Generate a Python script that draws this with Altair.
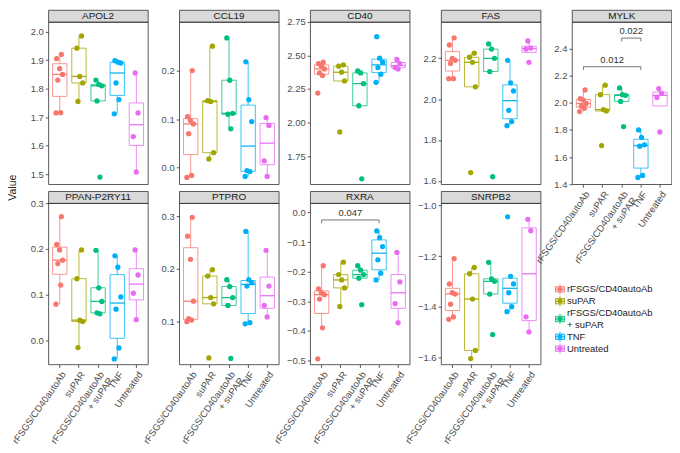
import altair as alt
import pandas as pd

FONT = "Liberation Sans"

# ---------------- data ----------------
GROUPS = ["rFSGS/CD40autoAb", "suPAR", "rFSGS/CD40autoAb + suPAR", "TNF", "Untreated"]
COLORS = ["#F8766D", "#A3A500", "#00BF7D", "#00B0F6", "#E76BF3"]
LEGEND_LABELS = ["rFSGS/CD40autoAb", "suPAR", "rFSGS/CD40autoAb\n+ suPAR", "TNF", "Untreated"]

APOL2 = [[1.715, 1.716, 1.83, 1.85, 1.87, 1.905, 1.92],
         [1.755, 1.82, 1.843, 1.942, 1.985],
         [1.49, 1.757, 1.81, 1.815, 1.83],
         [1.712, 1.762, 1.82, 1.89, 1.893, 1.898],
         [1.508, 1.632, 1.715, 1.855]]
CCL19 = [[-0.02, -0.016, 0.07, 0.09, 0.097, 0.105, 0.2],
         [0.018, 0.031, 0.136, 0.138, 0.25],
         [0.08, 0.11, 0.112, 0.18, 0.267],
         [-0.018, -0.008, -0.006, 0.095, 0.14, 0.218],
         [-0.018, 0.014, 0.087, 0.103]]
CD40 = [[2.22, 2.35, 2.37, 2.40, 2.42, 2.44, 2.45],
        [1.93, 2.31, 2.375, 2.42, 2.43],
        [1.58, 2.125, 2.29, 2.37, 2.385],
        [2.30, 2.36, 2.41, 2.45, 2.48, 2.64],
        [2.40, 2.41, 2.44, 2.47]]
FAS = [[2.10, 2.10, 2.175, 2.19, 2.20, 2.265, 2.30],
       [1.64, 2.06, 2.18, 2.205, 2.225],
       [1.62, 2.135, 2.20, 2.245, 2.27],
       [1.87, 1.89, 1.945, 2.04, 2.08, 2.19],
       [2.18, 2.245, 2.25, 2.285]]
MYLK = [[1.935, 1.96, 1.975, 1.995, 2.02, 2.03, 2.095],
        [1.685, 1.94, 1.95, 2.06, 2.13],
        [1.825, 2.01, 2.055, 2.06, 2.11],
        [1.45, 1.465, 1.68, 1.69, 1.745, 1.80],
        [1.785, 2.04, 2.07, 2.105]]
PPAN = [[0.079, 0.121, 0.168, 0.1755, 0.198, 0.21, 0.271],
        [-0.016, 0.041, 0.044, 0.135, 0.198],
        [0.058, 0.06, 0.085, 0.115, 0.197],
        [-0.041, -0.017, 0.068, 0.095, 0.16, 0.185],
        [0.045, 0.103, 0.143, 0.198]]
PTPRO = [[0.099, 0.102, 0.105, 0.138, 0.218, 0.262, 0.298],
         [0.03, 0.133, 0.145, 0.186, 0.198],
         [0.029, 0.13, 0.145, 0.166, 0.179],
         [0.095, 0.097, 0.167, 0.173, 0.179, 0.271],
         [0.108, 0.13, 0.167, 0.235]]
RXRA = [[-0.495, -0.39, -0.293, -0.278, -0.272, -0.258, -0.18],
        [-0.318, -0.255, -0.228, -0.21, -0.168],
        [-0.312, -0.222, -0.21, -0.195, -0.18],
        [-0.228, -0.205, -0.16, -0.115, -0.085, -0.062],
        [-0.373, -0.308, -0.235, -0.135]]
SNRPB2 = [[-1.45, -1.44, -1.39, -1.35, -1.345, -1.31, -1.21],
          [-1.605, -1.573, -1.37, -1.27, -1.245],
          [-1.51, -1.35, -1.30, -1.29, -1.225],
          [-1.42, -1.40, -1.345, -1.31, -1.28, -1.045],
          [-1.50, -1.44, -1.10, -1.055]]

GENES = {"APOL2": APOL2, "CCL19": CCL19, "CD40": CD40, "FAS": FAS, "MYLK": MYLK,
         "PPAN-P2RY11": PPAN, "PTPRO": PTPRO, "RXRA": RXRA, "SNRPB2": SNRPB2}
ROW1 = ["APOL2", "CCL19", "CD40", "FAS", "MYLK"]
ROW2 = ["PPAN-P2RY11", "PTPRO", "RXRA", "SNRPB2"]

Y_DOMAIN = {"APOL2": [1.465, 2.034], "CCL19": [-0.034, 0.30], "CD40": [1.54, 2.75],
            "FAS": [1.583, 2.378], "MYLK": [1.40, 2.596], "PPAN-P2RY11": [-0.053, 0.3006],
            "PTPRO": [0.0176, 0.325], "RXRA": [-0.514, 0.032], "SNRPB2": [-1.628, -0.991]}
Y_TICKS = {"APOL2": [1.5, 1.6, 1.7, 1.8, 1.9, 2.0], "CCL19": [0.0, 0.1, 0.2],
           "CD40": [1.75, 2.0, 2.25, 2.5, 2.75], "FAS": [1.6, 1.8, 2.0, 2.2],
           "MYLK": [1.4, 1.6, 1.8, 2.0, 2.2, 2.4], "PPAN-P2RY11": [0.0, 0.1, 0.2, 0.3],
           "PTPRO": [0.1, 0.2, 0.3], "RXRA": [-0.5, -0.4, -0.3, -0.2, -0.1, 0.0],
           "SNRPB2": [-1.6, -1.4, -1.2, -1.0]}
Y_FORMAT = {g: ".1f" for g in GENES}
Y_FORMAT["CD40"] = ".2f"

BR_GENE = ["MYLK", "MYLK", "RXRA"]
BR_FROM = ["rFSGS/CD40autoAb", "rFSGS/CD40autoAb + suPAR", "rFSGS/CD40autoAb"]
BR_TO = ["TNF", "TNF", "TNF"]
BR_Y = [2.266, 2.477, -0.025]
BR_P = ["0.012", "0.022", "0.047"]

# ---------------- tables ----------------
rows = []
for gene, groups in GENES.items():
    for gi, vals in enumerate(groups):
        for k, v in enumerate(vals):
            rows.append({"gene": gene, "group": GROUPS[gi], "gi": gi, "k": k, "value": v})
df = pd.DataFrame(rows)

# legend lines: one row per text line, keys at the middle of their label's lines
line_rows, key_rows = [], []
li = 0
for g, lab in zip(GROUPS, LEGEND_LABELS):
    parts = lab.split("\n")
    idx = list(range(li, li + len(parts)))
    for i, p in zip(idx, parts):
        line_rows.append({"line": i, "text": p})
    key_rows.append({"group": g, "line": sum(idx) / len(idx)})
    li += len(parts)
leg_lines = pd.DataFrame(line_rows)
leg_keys = pd.DataFrame(key_rows)

cscale = alt.Scale(domain=GROUPS, range=COLORS)
W = 100
H1 = 163
H2 = 162
SH = 12
VW = 6.5
AX_COL = "#333333"
LAB_COL = "#4d4d4d"
X_LABEL_EXPR = ("datum.label == 'rFSGS/CD40autoAb + suPAR' ? "
                "['rFSGS/CD40autoAb', '+ suPAR'] : datum.label")
KEY_PATH = ("M-0.75,-0.45L0.75,-0.45L0.75,0.45L-0.75,0.45Z "
            "M-0.75,0L0.75,0 M0,-0.45L0,-0.85 M0,0.45L0,0.85")
HIDDEN = alt.ViewBackground(strokeOpacity=0)


def xdef(axis):
    return alt.X("group:N", scale=alt.Scale(domain=GROUPS, paddingInner=0, paddingOuter=0.1),
                 axis=axis, title=None)


def panel(gene, show_x, height):
    d = df[df.gene == gene]
    lo, hi = Y_DOMAIN[gene]
    yscale = alt.Scale(domain=[lo, hi], nice=False, zero=False)
    yaxis = alt.Axis(values=Y_TICKS[gene], format=Y_FORMAT[gene], title=None)
    if show_x:
        xaxis = alt.Axis(labelAngle=305, labelAlign="right", labelBaseline="top",
                         labelExpr=X_LABEL_EXPR, labelLineHeight=10.5, labelPadding=2)
    else:
        xaxis = None
    base = alt.Chart(d)
    box = base.mark_boxplot(
        extent=1.5, outliers=False, median=False, size=14.4,
        box={"fill": "white", "strokeWidth": 0.9, "strokeOpacity": 0.85},
        rule={"strokeWidth": 0.9, "strokeOpacity": 0.85},
    ).encode(
        x=xdef(xaxis),
        y=alt.Y("value:Q", scale=yscale, axis=yaxis),
        stroke=alt.Stroke("group:N", scale=cscale, legend=None),
    )
    med = base.mark_tick(thickness=1.3, size=14.4, opacity=0.95).encode(
        x=xdef(None),
        y=alt.Y("median(value):Q", scale=yscale, axis=yaxis),
        color=alt.Color("group:N", scale=cscale, legend=None),
    )
    pts = base.transform_calculate(
        jit="((datum.k * 0.6180339887 + datum.gi * 0.37) % 1) * 0.8 - 0.4"
    ).mark_circle(size=28, opacity=1).encode(
        x=xdef(None),
        xOffset=alt.XOffset("jit:Q", scale=alt.Scale(domain=[-1, 1])),
        y=alt.Y("value:Q", scale=yscale, axis=yaxis),
        color=alt.Color("group:N", scale=cscale, legend=None),
    )
    layers = [box, med, pts]

    brs = [i for i, g in enumerate(BR_GENE) if g == gene]
    if brs:
        span = hi - lo
        bd = pd.DataFrame({
            "x1": [GROUPS.index(BR_FROM[i]) + 1 for i in brs],
            "x2": [GROUPS.index(BR_TO[i]) + 1 for i in brs],
            "by": [BR_Y[i] for i in brs],
            "p": [BR_P[i] for i in brs],
        })
        bd["xm"] = (bd.x1 + bd.x2) / 2
        bd["tip"] = bd.by - 0.02 * span
        ed = pd.concat([bd.assign(xe=bd.x1), bd.assign(xe=bd.x2)], ignore_index=True)
        qx = alt.Scale(domain=[0.4, 5.6], nice=False, zero=False)
        hrule = alt.Chart(bd).mark_rule(color="#555555", strokeWidth=0.8).encode(
            x=alt.X("x1:Q", scale=qx, axis=None), x2="x2:Q",
            y=alt.Y("by:Q", scale=yscale, axis=yaxis))
        vrule = alt.Chart(ed).mark_rule(color="#555555", strokeWidth=0.8).encode(
            x=alt.X("xe:Q", scale=qx, axis=None),
            y=alt.Y("by:Q", scale=yscale, axis=yaxis), y2="tip:Q")
        txt = alt.Chart(bd).mark_text(baseline="bottom", dy=-2, fontSize=9.5, font=FONT,
                                      color="#333333").encode(
            x=alt.X("xm:Q", scale=qx, axis=None),
            y=alt.Y("by:Q", scale=yscale, axis=yaxis), text="p:N")
        layers += [hrule, vrule, txt]

    return alt.layer(*layers).resolve_scale(x="independent").properties(width=W, height=height)


def strip(gene):
    return alt.Chart(pd.DataFrame({"gene": [gene]})).mark_text(
        fontSize=10, font=FONT, color="#1a1a1a").encode(text="gene:N").properties(
        width=W, height=SH,
        view=alt.ViewBackground(fill="#d9d9d9", stroke="#333333", strokeWidth=0.8))


def blank(w, h):
    return alt.Chart(pd.DataFrame({"t": [""]})).mark_text().encode(text="t:N").properties(
        width=w, height=h, view=HIDDEN)


# legend (placed in the grid cell under MYLK, to the right of SNRPB2)
ly = alt.Scale(domain=[-7.265, 6.325], reverse=True, nice=False, zero=False)
key = alt.Chart(leg_keys).mark_point(shape=KEY_PATH, filled=True, size=144, strokeWidth=0.9,
                                     fillOpacity=0.3, strokeOpacity=1, opacity=1).encode(
    x=alt.value(-12), y=alt.Y("line:Q", scale=ly, axis=None),
    fill=alt.Fill("group:N", scale=cscale, legend=None),
    stroke=alt.Stroke("group:N", scale=cscale, legend=None))
dot = alt.Chart(leg_keys).mark_circle(size=24, opacity=1).encode(
    x=alt.value(-12), y=alt.Y("line:Q", scale=ly, axis=None),
    color=alt.Color("group:N", scale=cscale, legend=None))
ltxt = alt.Chart(leg_lines).mark_text(align="left", baseline="middle", fontSize=9.5,
                                      font=FONT, color="#1a1a1a").encode(
    x=alt.value(-5), y=alt.Y("line:Q", scale=ly, axis=None), text="text:N")
legend = alt.layer(key, dot, ltxt).properties(width=W, height=H2, view=HIDDEN)

value_title = alt.Chart(pd.DataFrame({"t": ["Value"]})).mark_text(
    angle=270, fontSize=10.5, font=FONT, color="#1a1a1a").encode(text="t:N").properties(
    width=VW, height=7, view=HIDDEN)

cells = []
cells += [blank(VW, SH)] + [strip(g) for g in ROW1]
cells += [blank(VW, H1)] + [panel(g, g == "MYLK", H1) for g in ROW1]
cells += [value_title] + [blank(W, 7) for _ in ROW1]
cells += [blank(VW, SH)] + [strip(g) for g in ROW2] + [blank(W, SH)]
cells += [blank(VW, H2)] + [panel(g, True, H2) for g in ROW2] + [legend]

chart = alt.concat(*cells, columns=6, spacing={"row": 0, "column": 31.5},
                   bounds="flush", align="each")
chart = chart.properties(padding=0).configure_view(
    stroke=AX_COL, strokeWidth=0.8
).configure_axis(
    labelFont=FONT, labelFontSize=9.5, labelColor=LAB_COL, tickColor=AX_COL,
    tickSize=3, tickWidth=0.8, domain=False, grid=False, labelPadding=2
)

chart.save("out.html", embed_options={"renderer": "svg", "actions": False})
